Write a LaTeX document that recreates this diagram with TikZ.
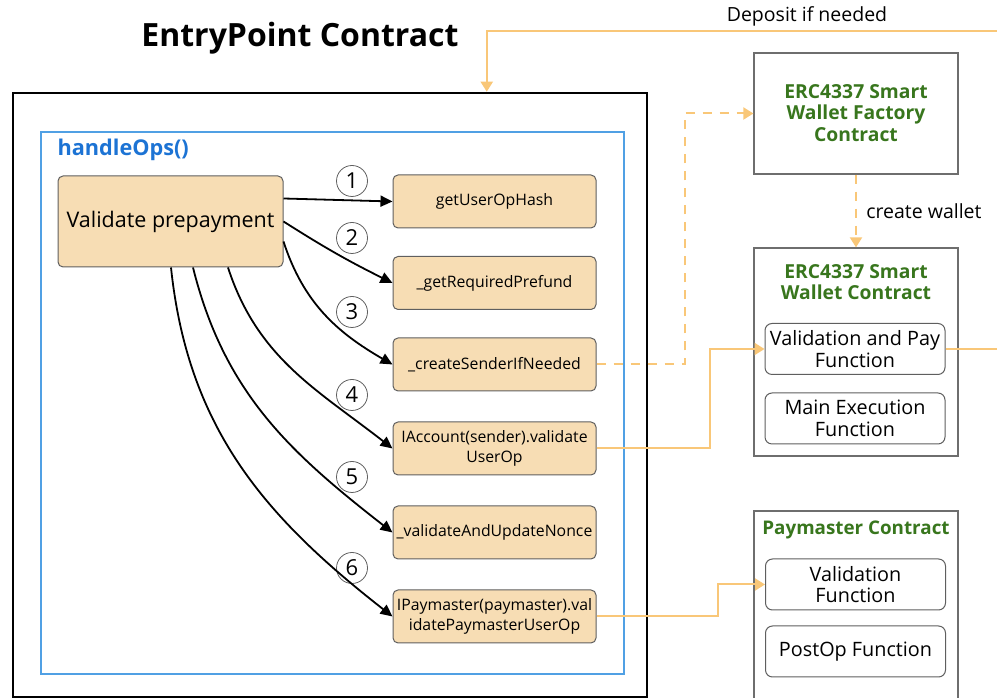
\documentclass[tikz,border=0pt]{standalone}
\usepackage{fontspec}
\setmainfont{Open Sans}
\usetikzlibrary{arrows.meta}
\definecolor{orng}{RGB}{249,199,120}
\definecolor{boxfill}{RGB}{247,221,180}
\definecolor{boxgray}{RGB}{95,95,95}
\definecolor{ctrgray}{RGB}{110,110,110}
\definecolor{grn}{RGB}{56,118,29}
\definecolor{blutext}{RGB}{28,115,212}
\definecolor{bluline}{RGB}{80,160,228}
\begin{document}
\begin{tikzpicture}[x=1pt,y=1pt,
  fbox/.style={draw=boxgray, fill=boxfill, rounded corners=5pt, line width=1pt,
    minimum width=203pt, minimum height=53pt, inner sep=1pt, align=center,
    font=\fontsize{15.8}{19.5}\selectfont},
  num/.style={circle, draw=boxgray, line width=0.8pt, minimum size=31pt, inner sep=0pt,
    font=\fontsize{22}{22}\selectfont},
  call/.style={-{Triangle[length=12pt,width=11pt]}, line width=1.8pt},
  oline/.style={draw=orng, line width=2pt},
  oarrow/.style={oline, -{Triangle[length=10pt,width=12pt]}, orng},
  odash/.style={oarrow, dash pattern=on 9pt off 8pt},
  ctr/.style={draw=ctrgray, line width=1.2pt, minimum width=204pt, inner sep=0pt},
  gtitle/.style={text=grn, font=\fontsize{19.3}{21.5}\selectfont\bfseries, align=center},
  fn/.style={draw=boxgray, fill=white, rounded corners=7pt, line width=1pt,
    minimum width=180pt, minimum height=51pt, align=center, inner sep=1pt,
    font=\fontsize{19.8}{21.5}\selectfont}]
\useasboundingbox (0,0) rectangle (997,698);
\clip (0,0) rectangle (997,698);

% titles
\node[font=\fontsize{32}{36}\selectfont\bfseries] (title) at (300,660) {EntryPoint Contract};
\node[font=\fontsize{19.5}{22}\selectfont] (dep) at (807,682) {Deposit if needed};

% EntryPoint box and handleOps box
\node[draw, line width=2.5pt, minimum width=634pt, minimum height=604pt, inner sep=0pt] (ep) at (330,303) {};
\node[draw=bluline, line width=1.5pt, minimum width=583pt, minimum height=542pt, inner sep=0pt] (ho) at (332.5,295) {};
\node[anchor=west, text=blutext, font=\fontsize{21.7}{24}\selectfont\bfseries] (hol) at (54,548) {handleOps()};

% validate prepayment
\node[fbox, minimum width=225pt, minimum height=91pt, font=\fontsize{21.5}{24}\selectfont] (vp) at (170.5,476.5) {\raisebox{-2pt}{Validate prepayment}};

% function boxes
\node[fbox] (b1) at (494.5,496.5) {getUserOpHash};
\node[fbox] (b2) at (494.5,415) {\_getRequiredPrefund};
\node[fbox] (b3) at (494.5,333.5) {\_createSenderIfNeeded};
\node[fbox] (b4) at (494.5,249.5) {IAccount(sender).validate\\UserOp};
\node[fbox] (b5) at (494.5,165.5) {\_validateAndUpdateNonce};
\node[fbox] (b6) at (494.5,81.5) {IPaymaster(paymaster).val\\idatePaymasterUserOp};

% numbers
\node[num] (n1) at (352,517) {1};
\node[num] (n2) at (352,460) {2};
\node[num] (n3) at (352,386) {3};
\node[num] (n4) at (352,303) {4};
\node[num] (n5) at (352,221) {5};
\node[num] (n6) at (352,130) {6};

% calls
\draw[call] ([yshift=23pt]vp.east) -- (b1.west);
\draw[call] (vp.east) to[bend right=3] (b2.west);
\draw[call] ([yshift=-20pt]vp.east) to[out=-72, in=150] (b3.west);
\draw[call] ([xshift=57.5pt]vp.south) to[out=-72, in=142] (b4.west);
\draw[call] ([xshift=22.5pt]vp.south) to[out=-76, in=142] (b5.west);
\draw[call] ([xshift=0.5pt]vp.south) to[out=-84, in=142] (b6.west);

% factory
\node[ctr, minimum height=121pt] (fac) at (856,584.5) {};
\node[gtitle] (factxt) at (856,585) {ERC4337 Smart\\Wallet Factory\\Contract};

% wallet
\node[ctr, minimum height=208pt] (wal) at (856,346) {};
\node[gtitle] (waltxt) at (856,416) {ERC4337 Smart\\Wallet Contract};
\node[fn] (vpf) at (855,349) {Validation and Pay\\Function};
\node[fn] (mef) at (855,279.5) {Main Execution\\Function};

% paymaster
\node[ctr, minimum height=210pt] (pm) at (856,82) {};
\node[gtitle, font=\fontsize{18.8}{21.5}\selectfont\bfseries] (pmtxt) at (856,168) {Paymaster Contract};
\node[fn] (vf) at (855.5,113.5) {Validation\\Function};
\node[fn] (pof) at (855.5,46.5) {PostOp Function};

% orange connectors
\coordinate (depR) at (997,667);
\coordinate (vpR) at (997,349);
\draw[oarrow] (depR) -| ([xshift=475pt]ep.north west);
\draw[odash] (b3.east) -- ++(88,0) |- (fac.west);
\draw[odash] (fac.south) -- node[right=6pt, text=black, font=\fontsize{19.5}{22}\selectfont] (cw) {create wallet} (wal.north);
\draw[oarrow] (b4.east) -- ++(113,0) |- (vpf.west);
\draw[oline] (vpf.east) -- (vpR);
\draw[oarrow] (b6.east) -- ++(121,0) |- (vf.west);
\end{tikzpicture}
\end{document}
